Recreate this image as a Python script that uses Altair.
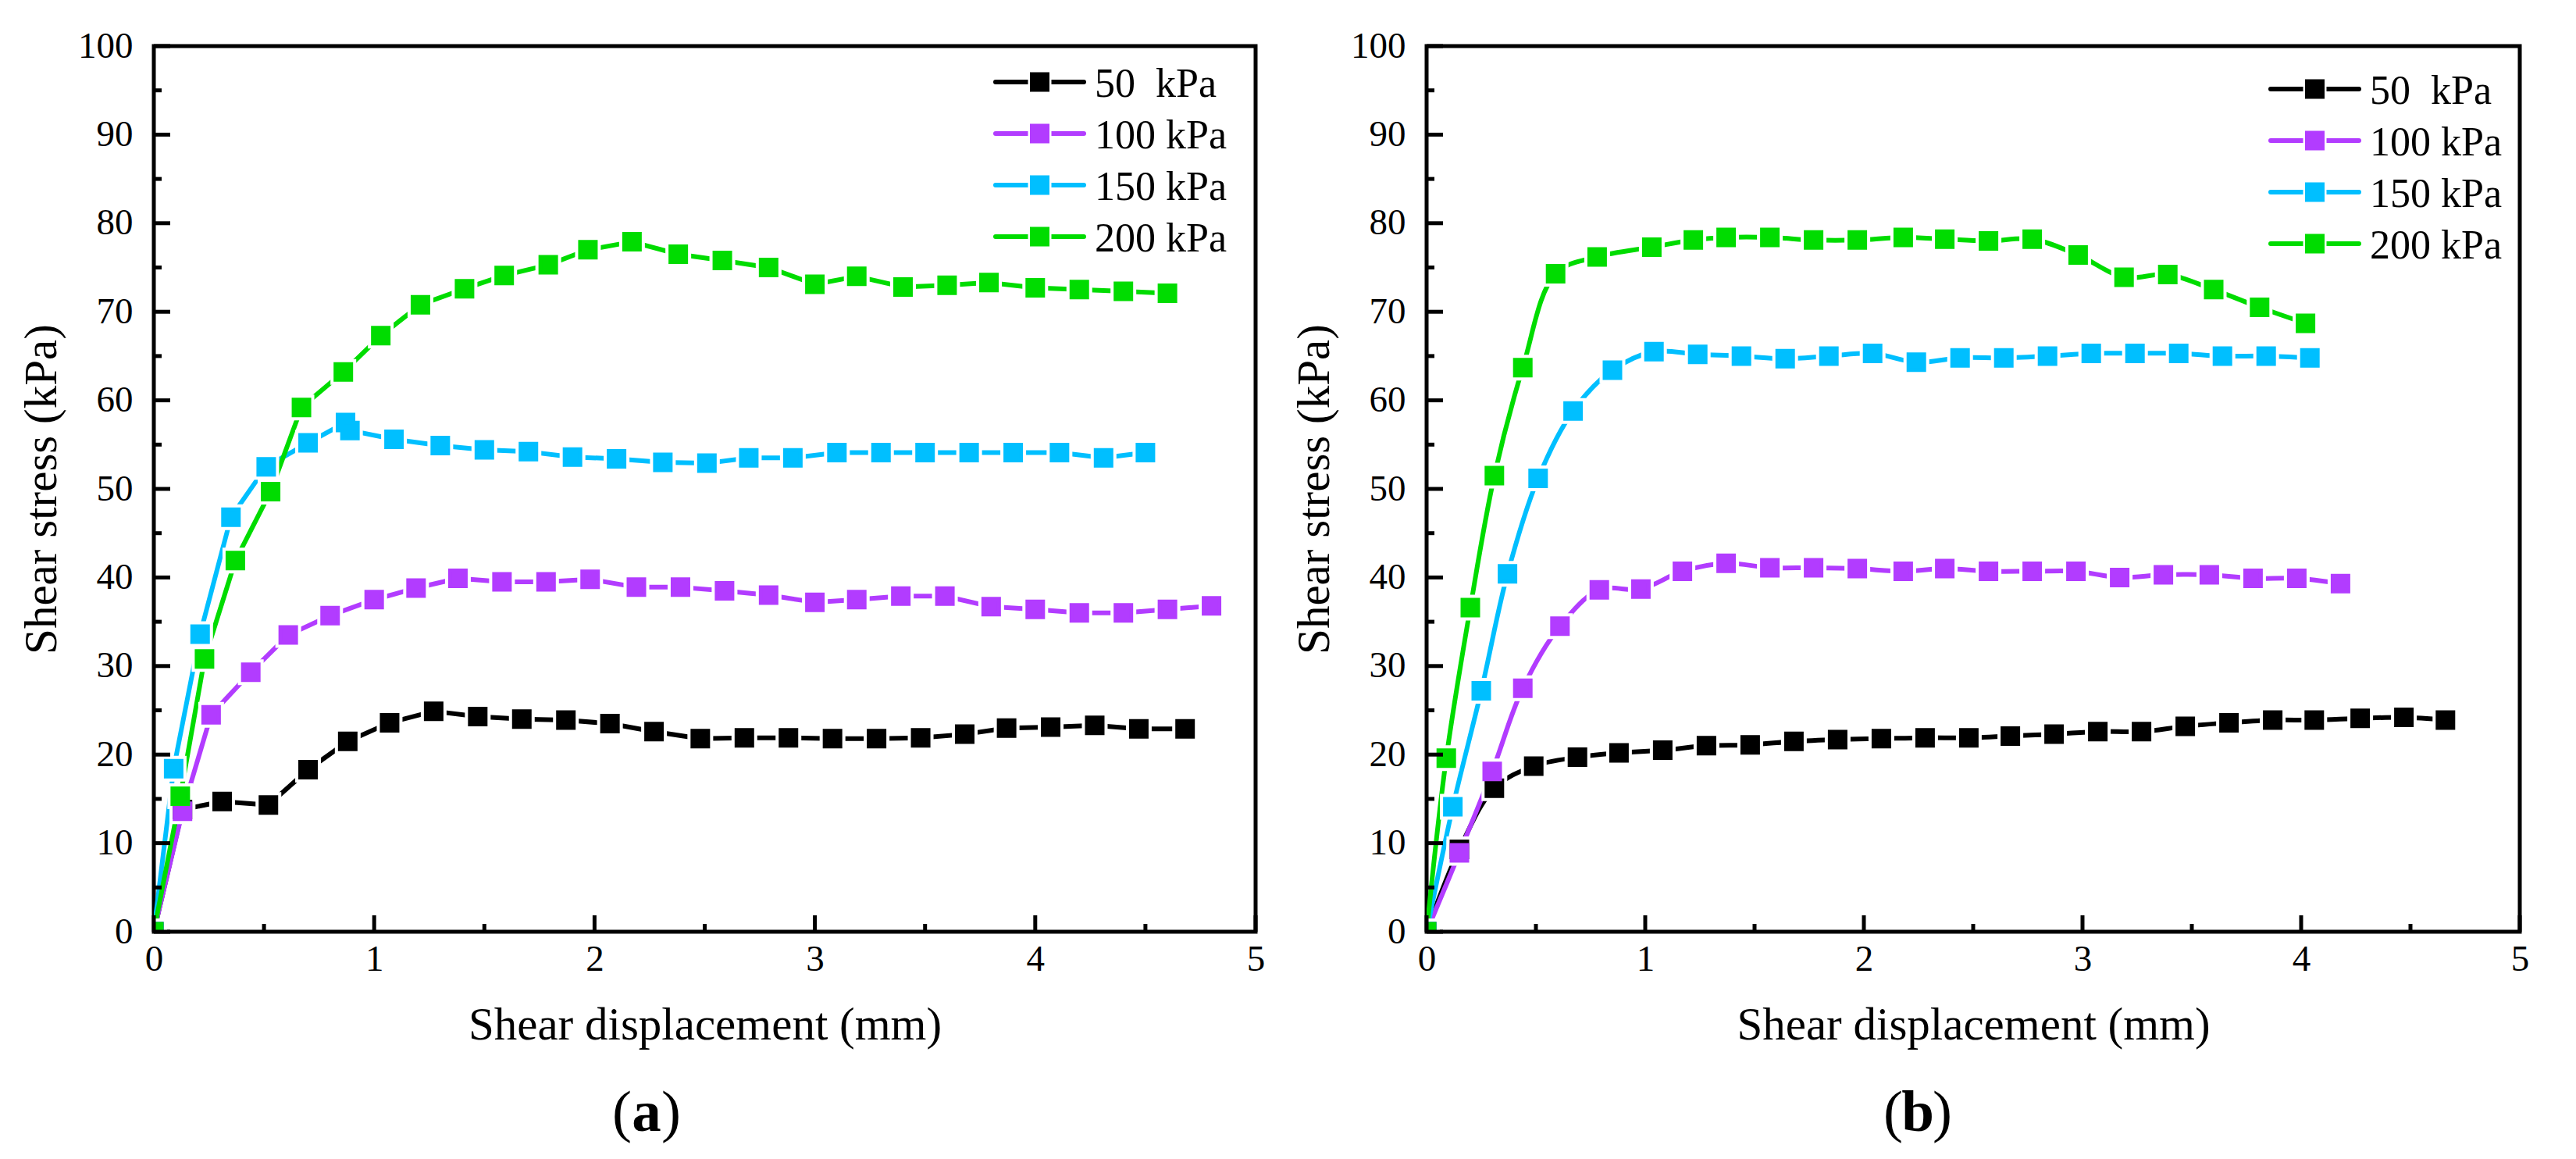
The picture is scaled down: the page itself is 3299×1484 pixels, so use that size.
import altair as alt
import pandas as pd

FONT = "Liberation Serif"
SERIES = ["\u00a050\u00a0\u00a0kPa", "100 kPa", "150 kPa", "200 kPa"]
COLORS = ["#000000", "#B23CFF", "#00BFFF", "#00DC00"]

# ---------- panel (a) ----------
xa_50 = [0, 0.13, 0.31, 0.52, 0.70, 0.88, 1.07, 1.27, 1.47, 1.67, 1.87, 2.07, 2.27, 2.48, 2.68, 2.88, 3.08, 3.28, 3.48, 3.68, 3.87, 4.07, 4.27, 4.47, 4.68]
ya_50 = [0, 13.8, 14.7, 14.3, 18.3, 21.5, 23.6, 24.9, 24.3, 24.0, 23.9, 23.5, 22.6, 21.8, 21.9, 21.9, 21.8, 21.8, 21.9, 22.3, 23.0, 23.1, 23.3, 22.9, 22.9]
xa_100 = [0, 0.13, 0.26, 0.44, 0.61, 0.80, 1.00, 1.19, 1.38, 1.58, 1.78, 1.98, 2.19, 2.39, 2.59, 2.79, 3.00, 3.19, 3.39, 3.59, 3.80, 4.00, 4.20, 4.40, 4.60, 4.80]
ya_100 = [0, 13.6, 24.5, 29.3, 33.5, 35.7, 37.5, 38.8, 39.9, 39.5, 39.5, 39.8, 38.9, 38.9, 38.5, 38.0, 37.2, 37.5, 37.9, 37.9, 36.7, 36.4, 36.0, 36.0, 36.4, 36.8]
xa_150 = [0, 0.09, 0.21, 0.35, 0.51, 0.70, 0.87, 0.89, 1.09, 1.30, 1.50, 1.70, 1.90, 2.10, 2.31, 2.51, 2.70, 2.90, 3.10, 3.30, 3.50, 3.70, 3.90, 4.11, 4.31, 4.50]
ya_150 = [0, 18.4, 33.6, 46.8, 52.5, 55.2, 57.5, 56.6, 55.6, 54.9, 54.4, 54.2, 53.6, 53.4, 53.0, 52.9, 53.5, 53.5, 54.1, 54.1, 54.1, 54.1, 54.1, 54.1, 53.5, 54.1]
xa_200 = [0, 0.12, 0.23, 0.37, 0.53, 0.67, 0.86, 1.03, 1.21, 1.41, 1.59, 1.79, 1.97, 2.17, 2.38, 2.58, 2.79, 3.00, 3.19, 3.40, 3.60, 3.79, 4.00, 4.20, 4.40, 4.60]
ya_200 = [0, 15.3, 30.8, 41.9, 49.7, 59.2, 63.2, 67.3, 70.8, 72.6, 74.1, 75.3, 77.0, 77.9, 76.5, 75.8, 75.0, 73.1, 74.0, 72.8, 73.0, 73.3, 72.7, 72.5, 72.3, 72.1]

# ---------- panel (b) ----------
xb_50 = [0, 0.15, 0.31, 0.49, 0.69, 0.88, 1.08, 1.28, 1.48, 1.68, 1.88, 2.08, 2.28, 2.48, 2.67, 2.87, 3.07, 3.27, 3.47, 3.67, 3.87, 4.06, 4.27, 4.47, 4.66]
yb_50 = [0, 9.3, 16.2, 18.7, 19.7, 20.2, 20.5, 21.0, 21.1, 21.5, 21.7, 21.8, 21.9, 21.9, 22.1, 22.3, 22.6, 22.6, 23.2, 23.6, 23.9, 23.9, 24.1, 24.2, 23.9]
xb_100 = [0, 0.15, 0.30, 0.44, 0.61, 0.79, 0.98, 1.17, 1.37, 1.57, 1.77, 1.97, 2.18, 2.37, 2.57, 2.77, 2.97, 3.17, 3.37, 3.58, 3.78, 3.98, 4.18]
yb_100 = [0, 8.9, 18.1, 27.5, 34.5, 38.6, 38.7, 40.7, 41.6, 41.1, 41.1, 41.0, 40.7, 41.0, 40.7, 40.7, 40.7, 40.0, 40.3, 40.3, 39.9, 39.9, 39.3]
xb_150 = [0, 0.12, 0.25, 0.37, 0.51, 0.67, 0.85, 1.04, 1.24, 1.44, 1.64, 1.84, 2.04, 2.24, 2.44, 2.64, 2.84, 3.04, 3.24, 3.44, 3.64, 3.84, 4.04]
yb_150 = [0, 14.1, 27.2, 40.4, 51.2, 58.8, 63.4, 65.5, 65.2, 65.0, 64.7, 65.0, 65.3, 64.3, 64.8, 64.8, 65.0, 65.3, 65.3, 65.3, 65.0, 65.0, 64.8]
xb_200 = [0, 0.09, 0.20, 0.31, 0.44, 0.59, 0.78, 1.03, 1.22, 1.37, 1.57, 1.77, 1.97, 2.18, 2.37, 2.57, 2.77, 2.98, 3.19, 3.39, 3.60, 3.81, 4.02]
yb_200 = [0, 19.6, 36.6, 51.5, 63.7, 74.3, 76.2, 77.3, 78.1, 78.4, 78.4, 78.1, 78.1, 78.4, 78.2, 78.0, 78.2, 76.4, 73.9, 74.2, 72.5, 70.5, 68.7]

X_MAJOR = [0, 1, 2, 3, 4, 5]
X_MINOR = [0.5, 1.5, 2.5, 3.5, 4.5]
Y_MAJOR = [0, 10, 20, 30, 40, 50, 60, 70, 80, 90, 100]
Y_MINOR = [5, 15, 25, 35, 45, 55, 65, 75, 85, 95]
LEGEND_ROWS = [0, 1, 2, 3]


def make_df(xs_list, ys_list):
    rows = []
    for s, xs, ys in zip(SERIES, xs_list, ys_list):
        for i, (x, y) in enumerate(zip(xs, ys)):
            rows.append({"s": s, "x": x, "y": y, "i": i})
    return pd.DataFrame(rows)


def panel(df, W, H, letter, interp, leg_x, leg_y, label_cx):
    xsc = alt.Scale(domain=[0, 5], nice=False, zero=False)
    ysc = alt.Scale(domain=[0, 100], nice=False, zero=False)
    csc = alt.Scale(domain=SERIES, range=COLORS)
    X = alt.X("x:Q", scale=xsc,
              axis=alt.Axis(title="Shear displacement (mm)", values=X_MAJOR, format="d",
                            labelPadding=12, titlePadding=32))
    Y = alt.Y("y:Q", scale=ysc,
              axis=alt.Axis(title="Shear stress (kPa)", values=Y_MAJOR, format="d",
                            labelPadding=27, titlePadding=16))
    col = alt.Color("s:N", scale=csc, legend=None)
    fil = alt.Fill("s:N", scale=csc, legend=None)
    stk = alt.Stroke("s:N", scale=csc, legend=None)

    base = alt.Chart(df)
    line = base.mark_line(strokeWidth=6, strokeCap="round", strokeJoin="round",
                          interpolate=interp, clip=True).encode(
        x=X, y=Y, color=col, order=alt.Order("i:Q"))
    halo = base.mark_point(shape="square", filled=True, size=1089, color="white",
                           opacity=1, clip=True).encode(x=X, y=Y)
    pts = base.mark_point(shape="square", filled=True, size=400, strokeWidth=5,
                          opacity=1, clip=True).encode(x=X, y=Y, fill=fil, stroke=stk)

    # inward ticks on the left and bottom edges
    ymaj = alt.Chart(pd.DataFrame({"y": Y_MAJOR})).mark_rule(strokeWidth=5, color="black").encode(
        y=Y, x=alt.value(0), x2=alt.value(21))
    ymin = alt.Chart(pd.DataFrame({"y": Y_MINOR})).mark_rule(strokeWidth=5, color="black").encode(
        y=Y, x=alt.value(0), x2=alt.value(10))
    xmaj = alt.Chart(pd.DataFrame({"x": X_MAJOR})).mark_rule(strokeWidth=5, color="black").encode(
        x=X, y=alt.value(H), y2=alt.value(H - 21))
    xmin = alt.Chart(pd.DataFrame({"x": X_MINOR})).mark_rule(strokeWidth=5, color="black").encode(
        x=X, y=alt.value(H), y2=alt.value(H - 10))

    # legend (line + square symbol), laid out in pixels relative to the plot area
    leg = alt.Chart(pd.DataFrame({"s": SERIES, "r": LEGEND_ROWS})).transform_calculate(
        y=f"100 - ({leg_y} + 66 * datum.r) * 100 / {H}")
    leg_line = leg.transform_calculate(
        x=f"{leg_x} * 5 / {W}", x2=f"({leg_x} + 113) * 5 / {W}").mark_rule(
        strokeWidth=6, strokeCap="round").encode(x=X, x2="x2:Q", y=Y, color=col)
    leg_halo = leg.transform_calculate(x=f"({leg_x} + 56.5) * 5 / {W}").mark_point(
        shape="square", filled=True, size=900, color="white", opacity=1).encode(x=X, y=Y)
    leg_pt = leg.transform_calculate(x=f"({leg_x} + 56.5) * 5 / {W}").mark_point(
        shape="square", filled=True, size=400, strokeWidth=5, opacity=1).encode(
        x=X, y=Y, fill=fil, stroke=stk)
    leg_txt = leg.transform_calculate(x=f"({leg_x} + 127) * 5 / {W}").mark_text(
        font=FONT, fontSize=52, align="left", baseline="middle", dy=3, color="black").encode(
        x=X, y=Y, text="s:N")

    # panel label "(a)" / "(b)" with a bold letter
    half = 19
    p_open = alt.Chart(pd.DataFrame({"t": ["("]})).mark_text(
        font=FONT, fontSize=75, align="right", baseline="alphabetic", color="black").encode(
        x=alt.value(label_cx - half), y=alt.value(H + 255), text="t:N")
    p_let = alt.Chart(pd.DataFrame({"t": [letter]})).mark_text(
        font=FONT, fontSize=75, fontWeight="bold", align="center", baseline="alphabetic",
        color="black").encode(x=alt.value(label_cx), y=alt.value(H + 255), text="t:N")
    p_close = alt.Chart(pd.DataFrame({"t": [")"]})).mark_text(
        font=FONT, fontSize=75, align="left", baseline="alphabetic", color="black").encode(
        x=alt.value(label_cx + half), y=alt.value(H + 255), text="t:N")

    return alt.layer(line, halo, pts, ymaj, ymin, xmaj, xmin,
                     leg_line, leg_halo, leg_pt, leg_txt,
                     p_open, p_let, p_close).properties(width=W, height=H)


df_a = make_df([xa_50, xa_100, xa_150, xa_200], [ya_50, ya_100, ya_150, ya_200])
df_b = make_df([xb_50, xb_100, xb_150, xb_200], [yb_50, yb_100, yb_150, yb_200])

left = panel(df_a, 1411, 1134, "a", "linear", 1078, 46, 631)
right = panel(df_b, 1400, 1134, "b", "catmull-rom", 1081, 55, 629)

chart = alt.hconcat(left, right, spacing=29).properties(
    padding={"left": 14, "top": 24, "right": 10, "bottom": 10},
    background="white",
).configure_view(
    stroke="black", strokeWidth=5,
).configure_axis(
    labelFont=FONT, labelFontSize=47, labelColor="black", labelFlush=False,
    titleFont=FONT, titleFontSize=59, titleFontWeight="normal", titleColor="black",
    grid=False, domain=False, ticks=False, tickSize=0, labelOverlap=False,
)

chart.save("out.html", embed_options={"renderer": "svg", "actions": False})
